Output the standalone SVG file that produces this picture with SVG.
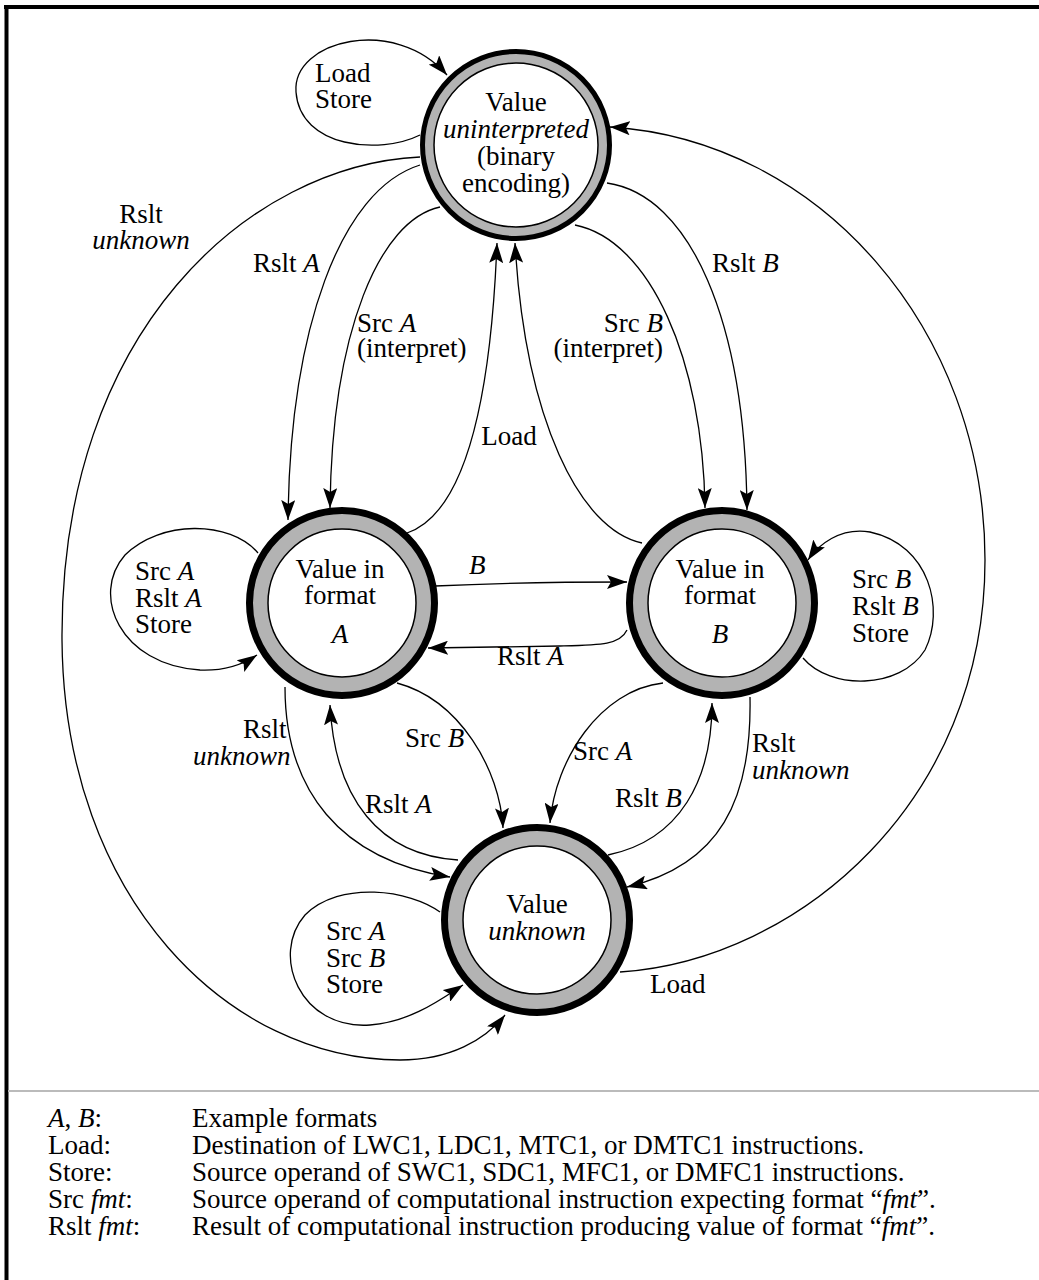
<svg xmlns="http://www.w3.org/2000/svg" width="1039" height="1280" viewBox="0 0 1039 1280">
<style>
  text { font-family: "Liberation Serif", "Times New Roman", serif; font-size: 27px; fill: #000; }
  .i { font-style: italic; }
  .m { text-anchor: middle; }
  .e { text-anchor: end; }
  .ring { fill: #b3b3b3; stroke: #000; stroke-width: 7; }
  .ringT { fill: #b3b3b3; stroke: #000; stroke-width: 5; }
  .inner { fill: #fff; stroke: #000; stroke-width: 1.5; }
  .edge { fill: none; stroke: #000; stroke-width: 1.3; marker-end: url(#arr); }
  .lg { font-size: 27px; }
</style>
<defs>
  <marker id="arr" markerUnits="userSpaceOnUse" markerWidth="22" markerHeight="14" refX="20" refY="7" orient="auto">
    <path d="M0,0 L20,7 L0,14 L4,7 z" fill="#000"/>
  </marker>
</defs>
<rect width="1039" height="1280" fill="#fff"/>
<!-- frame -->
<line x1="4" y1="7" x2="1039" y2="7" stroke="#000" stroke-width="4"/>
<line x1="6.5" y1="5" x2="6.5" y2="1280" stroke="#000" stroke-width="4"/>
<line x1="8" y1="1091" x2="1039" y2="1091" stroke="#bbb" stroke-width="2"/>

<g id="connectors">
  <!-- T self loop -->
  <path class="edge" d="M420,135 C380,155 300,148 296,92 C292,40 395,15 447,75"/>
  <!-- T -> U big left arc (Rslt unknown) -->
  <path class="edge" d="M420,157 C250,165 60,330 62,640 C64,900 230,1060 400,1060 C450,1060 485,1040 505,1015"/>
  <!-- U -> T big right arc (Load) -->
  <path class="edge" d="M620,972 C800,960 985,800 985,560 C985,330 820,140 610,127"/>
  <!-- T -> A Rslt A -->
  <path class="edge" d="M420,165 C340,190 290,330 288,520"/>
  <!-- T -> A Src A (interpret) -->
  <path class="edge" d="M440,207 C380,220 332,330 330,508"/>
  <!-- A -> T Load -->
  <path class="edge" d="M407,533 C460,515 490,420 497,243"/>
  <!-- B -> T Load -->
  <path class="edge" d="M642,543 C580,530 525,420 515,243"/>
  <!-- T -> B Src B (interpret) -->
  <path class="edge" d="M575,225 C650,240 703,360 705,508"/>
  <!-- T -> B Rslt B -->
  <path class="edge" d="M607,183 C690,195 745,320 747,510"/>
  <!-- A -> B : B -->
  <path class="edge" d="M435,586 C500,583 560,582 627,582"/>
  <!-- B -> A : Rslt A -->
  <path class="edge" d="M627,630 C620,645 600,645 560,646 L428,648"/>
  <!-- A -> U : Src B -->
  <path class="edge" d="M397,683 C460,700 500,770 503,828"/>
  <!-- U -> A : Rslt A -->
  <path class="edge" d="M458,860 C380,855 335,800 330,705"/>
  <!-- A -> U : Rslt unknown -->
  <path class="edge" d="M285,687 C285,790 340,860 450,877"/>
  <!-- B -> U : Src A -->
  <path class="edge" d="M663,683 C600,690 555,760 550,823"/>
  <!-- U -> B : Rslt B -->
  <path class="edge" d="M608,855 C680,840 712,780 712,703"/>
  <!-- B -> U : Rslt unknown -->
  <path class="edge" d="M750,697 C752,800 720,865 627,887"/>
  <!-- A self loop -->
  <path class="edge" d="M258,553 C230,520 160,520 125,555 C90,595 120,665 200,670 C225,671 245,663 257,655"/>
  <!-- B self loop -->
  <path class="edge" d="M803,658 C830,690 900,690 925,650 C945,610 930,545 870,532 C840,527 818,545 808,560"/>
  <!-- U self loop -->
  <path class="edge" d="M440,912 C410,890 340,880 305,915 C270,955 300,1030 370,1025 C410,1022 440,1000 463,985"/>
</g>

<g id="edge-labels">
  <text x="315" y="82">Load</text>
  <text x="315" y="108">Store</text>
  <text class="m" x="141" y="223">Rslt</text>
  <text class="m i" x="141" y="249">unknown</text>
  <text x="253" y="272">Rslt <tspan class="i">A</tspan></text>
  <text x="357" y="332">Src <tspan class="i">A</tspan></text>
  <text x="357" y="357">(interpret)</text>
  <text class="m" x="509" y="445">Load</text>
  <text class="e" x="663" y="332">Src <tspan class="i">B</tspan></text>
  <text class="e" x="663" y="357">(interpret)</text>
  <text x="712" y="272">Rslt <tspan class="i">B</tspan></text>
  <text class="i" x="469" y="574">B</text>
  <text x="497" y="665">Rslt <tspan class="i">A</tspan></text>
  <text x="135" y="580">Src <tspan class="i">A</tspan></text>
  <text x="135" y="607">Rslt <tspan class="i">A</tspan></text>
  <text x="135" y="633">Store</text>
  <text x="852" y="588">Src <tspan class="i">B</tspan></text>
  <text x="852" y="615">Rslt <tspan class="i">B</tspan></text>
  <text x="852" y="642">Store</text>
  <text x="243" y="738">Rslt</text>
  <text class="i" x="193" y="765">unknown</text>
  <text x="405" y="747">Src <tspan class="i">B</tspan></text>
  <text x="365" y="813">Rslt <tspan class="i">A</tspan></text>
  <text x="573" y="760">Src <tspan class="i">A</tspan></text>
  <text x="615" y="807">Rslt <tspan class="i">B</tspan></text>
  <text x="752" y="752">Rslt</text>
  <text class="i" x="752" y="779">unknown</text>
  <text x="326" y="940">Src <tspan class="i">A</tspan></text>
  <text x="326" y="967">Src <tspan class="i">B</tspan></text>
  <text x="326" y="993">Store</text>
  <text x="650" y="993">Load</text>
</g>

<g id="node-uninterpreted">
  <circle class="ringT" cx="516" cy="145" r="93.5"/>
  <circle class="inner" cx="516" cy="145" r="82"/>
  <text class="m" x="516" y="111">Value</text>
  <text class="m i" x="516" y="138">uninterpreted</text>
  <text class="m" x="516" y="165">(binary</text>
  <text class="m" x="516" y="192">encoding)</text>
</g>
<g id="node-A">
  <circle class="ring" cx="342" cy="603" r="92.5"/>
  <circle class="inner" cx="342" cy="603" r="74"/>
  <text class="m" x="340" y="578">Value in</text>
  <text class="m" x="340" y="604">format</text>
  <text class="m i" x="340" y="643">A</text>
</g>
<g id="node-B">
  <circle class="ring" cx="722" cy="603" r="92.5"/>
  <circle class="inner" cx="722" cy="603" r="74"/>
  <text class="m" x="720" y="578">Value in</text>
  <text class="m" x="720" y="604">format</text>
  <text class="m i" x="720" y="643">B</text>
</g>
<g id="node-unknown">
  <circle class="ring" cx="537" cy="920" r="92.5"/>
  <circle class="inner" cx="537" cy="920" r="74"/>
  <text class="m" x="537" y="913">Value</text>
  <text class="m i" x="537" y="940">unknown</text>
</g>

<g id="legend">
  <text class="lg" x="48" y="1127"><tspan class="i">A</tspan>, <tspan class="i">B</tspan>:</text>
  <text class="lg" x="192" y="1127">Example formats</text>
  <text class="lg" x="48" y="1154">Load:</text>
  <text class="lg" x="192" y="1154">Destination of LWC1, LDC1, MTC1, or DMTC1 instructions.</text>
  <text class="lg" x="48" y="1181">Store:</text>
  <text class="lg" x="192" y="1181">Source operand of SWC1, SDC1, MFC1, or DMFC1 instructions.</text>
  <text class="lg" x="48" y="1208">Src <tspan class="i">fmt</tspan>:</text>
  <text class="lg" x="192" y="1208">Source operand of computational instruction expecting format “<tspan class="i">fmt</tspan>”.</text>
  <text class="lg" x="48" y="1235">Rslt <tspan class="i">fmt</tspan>:</text>
  <text class="lg" x="192" y="1235">Result of computational instruction producing value of format “<tspan class="i">fmt</tspan>”.</text>
</g>
</svg>
